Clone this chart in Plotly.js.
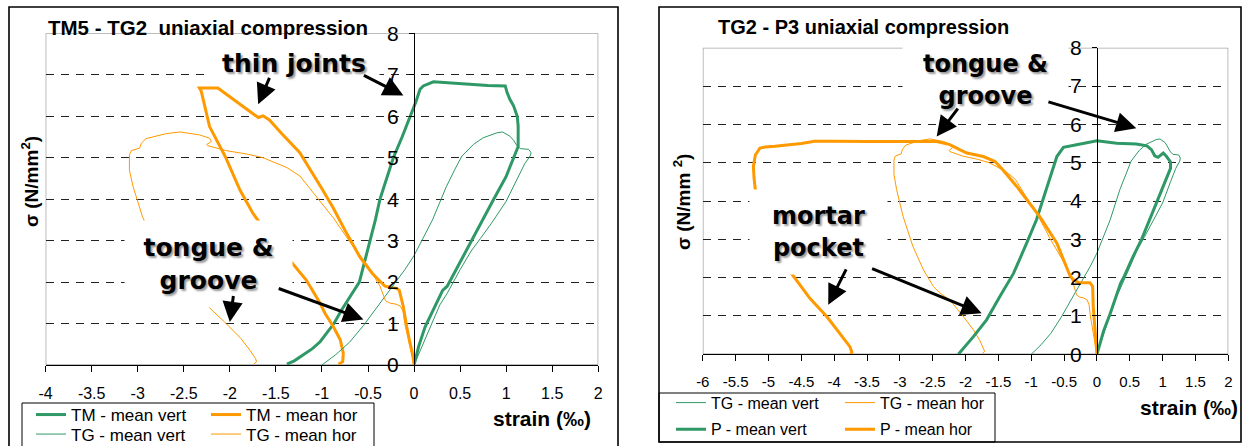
<!DOCTYPE html>
<html>
<head>
<meta charset="utf-8">
<script src="https://cdn.plot.ly/plotly-3.0.1.min.js"></script>
<style>
  html, body { margin: 0; padding: 0; background: #fff; }
  #chart { width: 1243px; height: 446px; }
</style>
</head>
<body>
<div id="chart"></div>
<script>
// ---------------- DATA ----------------
// Left panel: TM5 - TG2
const tmVertX = [0, 0.05, 0.12, 0.2, 0.31, 0.36, 0.48, 0.61, 0.73, 0.86, 1.0, 1.12, 1.13, 1.13, 1.12, 1.08, 1.04, 1.01, 0.99, 0.80, 0.61, 0.40, 0.21, 0.10, 0.065, 0.02, -0.04, -0.13, -0.225, -0.30, -0.37, -0.42, -0.478, -0.53, -0.594, -0.68, -0.78, -0.87, -0.95, -1.02, -1.10, -1.20, -1.30, -1.38];
const tmVertY = [0, 0.45, 0.92, 1.3, 1.8, 1.9, 2.4, 2.97, 3.45, 3.98, 4.55, 5.2, 5.27, 5.77, 6.0, 6.25, 6.41, 6.57, 6.73, 6.74, 6.77, 6.8, 6.83, 6.73, 6.65, 6.35, 6.0, 5.5, 5.0, 4.5, 4.0, 3.5, 3.0, 2.5, 2.0, 1.7, 1.35, 1.0, 0.78, 0.56, 0.4, 0.24, 0.1, 0.02];

const tmHorX = [0, -0.014, -0.043, -0.08, -0.116, -0.16, -0.19, -0.315, -0.45, -0.587, -0.75, -0.88, -1.0, -1.09, -1.24, -1.44, -1.57, -1.64, -1.69, -1.73, -1.93, -2.13, -2.33, -2.31, -2.22, -2.05, -1.89, -1.75, -1.6, -1.45, -1.33, -1.17, -1.02, -0.967, -0.877, -0.80, -0.768, -0.775, -0.82];
const tmHorY = [0, 0.24, 0.52, 0.92, 1.40, 1.8, 1.85, 1.9, 2.2, 2.6, 3.25, 3.8, 4.25, 4.57, 5.12, 5.59, 5.91, 6.01, 5.97, 6.03, 6.36, 6.68, 6.68, 6.6, 5.75, 5.03, 4.22, 3.66, 3.2, 2.8, 2.49, 2.05, 1.49, 1.25, 0.93, 0.6, 0.28, 0.08, 0.02];

// TG2 series (same specimen, shown in both panels)
const tgVertX = [0, 0.1, 0.21, 0.28, 0.36, 0.5, 0.62, 0.72, 0.85, 1.0, 1.12, 1.2, 1.26, 1.27, 1.245, 1.155, 1.12, 1.08, 1.04, 0.96, 0.90, 0.75, 0.645, 0.52, 0.45, 0.35, 0.2, 0, -0.1, -0.25, -0.41, -0.55, -0.7, -0.85, -1.0];
const tgVertY = [0, 0.5, 1.09, 1.45, 1.73, 2.3, 2.75, 3.05, 3.45, 3.95, 4.5, 4.85, 5.04, 5.12, 5.2, 5.22, 5.28, 5.42, 5.52, 5.62, 5.6, 5.48, 5.32, 5.04, 4.75, 4.3, 3.5, 2.64, 2.3, 1.85, 1.35, 0.95, 0.55, 0.25, 0];

const tgHorX = [0, -0.03, -0.07, -0.10, -0.12, -0.15, -0.20, -0.26, -0.31, -0.37, -0.51, -0.70, -0.877, -1.06, -1.24, -1.38, -1.53, -1.64, -1.82, -2.04, -2.24, -2.25, -2.20, -2.22, -2.33, -2.54, -2.69, -2.91, -2.96, -2.98, -3.07, -3.09, -3.09, -3.05, -2.95, -2.80, -2.64, -2.49, -2.39, -2.24, -2.04, -1.88, -1.78, -1.72, -1.71, -1.74];
const tgHorY = [0, 0.3, 0.65, 1.0, 1.3, 1.42, 1.47, 1.49, 1.55, 1.9, 2.42, 2.98, 3.55, 4.07, 4.56, 4.76, 4.9, 5.0, 5.09, 5.17, 5.29, 5.32, 5.39, 5.47, 5.55, 5.62, 5.58, 5.46, 5.35, 5.23, 5.17, 5.07, 4.7, 4.3, 3.59, 2.81, 2.2, 1.77, 1.6, 1.42, 1.0, 0.64, 0.35, 0.15, 0.08, 0.02];

// Right panel: TG2 - P3
const pVertX = [0, 0.1, 0.2, 0.3, 0.36, 0.42, 0.55, 0.68, 0.82, 0.97, 1.06, 1.12, 1.12, 1.09, 1.06, 1.01, 0.93, 0.88, 0.83, 0.76, 0.60, 0.30, 0, -0.31, -0.51, -0.61, -0.69, -0.79, -0.92, -1.07, -1.27, -1.48, -1.68, -1.88, -2.0, -2.11];
const pVertY = [0, 0.6, 1.05, 1.55, 1.85, 2.05, 2.55, 3.0, 3.6, 4.2, 4.6, 4.85, 5.02, 5.1, 5.16, 5.25, 5.14, 5.18, 5.34, 5.44, 5.49, 5.51, 5.57, 5.47, 5.4, 5.16, 4.73, 4.2, 3.51, 2.9, 2.11, 1.5, 0.9, 0.46, 0.22, 0];

const pHorX = [0, -0.03, -0.056, -0.065, -0.107, -0.28, -0.36, -0.41, -0.61, -0.87, -1.02, -1.22, -1.43, -1.55, -1.73, -1.88, -1.98, -2.09, -2.24, -2.44, -2.7, -3.0, -3.5, -4.0, -4.3, -4.5, -4.7, -4.9, -5.05, -5.13, -5.2, -5.23, -5.22, -5.2, -4.65, -4.37, -4.11, -3.91, -3.76, -3.73, -3.75];
const pHorY = [0, 0.72, 1.24, 1.77, 1.87, 1.87, 1.95, 2.05, 2.9, 3.59, 3.94, 4.38, 4.81, 5.03, 5.16, 5.22, 5.25, 5.34, 5.47, 5.55, 5.55, 5.54, 5.55, 5.56, 5.56, 5.5, 5.46, 5.43, 5.41, 5.38, 5.2, 4.9, 4.6, 4.29, 2.11, 1.46, 0.98, 0.55, 0.2, 0.05, 0];

// Tick labels
const xTickVals1 = [-4, -3.5, -3, -2.5, -2, -1.5, -1, -0.5, 0, 0.5, 1, 1.5, 2];
const xTickText1 = ['-4', '-3.5', '-3', '-2.5', '-2', '-1.5', '-1', '-0.5', '0', '0.5', '1', '1.5', '2'];
const xTickVals2 = [-6, -5.5, -5, -4.5, -4, -3.5, -3, -2.5, -2, -1.5, -1, -0.5, 0, 0.5, 1, 1.5, 2];
const xTickText2 = ['-6', '-5.5', '-5', '-4.5', '-4', '-3.5', '-3', '-2.5', '-2', '-1.5', '-1', '-0.5', '0', '0.5', '1', '1.5', '2'];
const yTickVals = [0, 1, 2, 3, 4, 5, 6, 7, 8];

// Series names
const namesLeft = ['TM - mean vert', 'TM - mean hor', 'TG - mean vert', 'TG - mean hor'];
const namesRight = ['TG - mean vert', 'TG - mean hor', 'P - mean vert', 'P - mean hor'];

// ---------------- STYLE / LAYOUT ----------------
const W = 1243, H = 446;
const GREEN = '#2e9966', ORANGE = '#ff9900';
const px = v => v / W;
const py = v => 1 - v / H;
const SANS = 'Liberation Sans, Arial, sans-serif';
const BIG = 'DejaVu Sans, Verdana, sans-serif';

function tr(x, y, name, color, width, xa, ya, leg) {
  return { x: x, y: y, name: name, type: 'scatter', mode: 'lines',
    line: { color: color, width: width }, xaxis: xa, yaxis: ya, legend: leg,
    hoverinfo: 'skip' };
}

const traces = [
  tr(tmVertX, tmVertY, namesLeft[0], GREEN, 3, 'x', 'y', 'legend'),
  tr(tmHorX, tmHorY, namesLeft[1], ORANGE, 3, 'x', 'y', 'legend'),
  tr(tgVertX, tgVertY, namesLeft[2], GREEN, 1, 'x', 'y', 'legend2'),
  tr(tgHorX, tgHorY, namesLeft[3], ORANGE, 1, 'x', 'y', 'legend2'),
  tr(tgVertX, tgVertY, namesRight[0], GREEN, 1, 'x2', 'y2', 'legend3'),
  tr(tgHorX, tgHorY, namesRight[1], ORANGE, 1, 'x2', 'y2', 'legend3'),
  tr(pVertX, pVertY, namesRight[2], GREEN, 3, 'x2', 'y2', 'legend4'),
  tr(pHorX, pHorY, namesRight[3], ORANGE, 3, 'x2', 'y2', 'legend4')
];

function xAxis(domain, range, vals, text, anchor, fs) {
  return { domain: domain, range: range, tickvals: vals, ticktext: text, anchor: anchor,
    showline: true, linecolor: '#000', linewidth: 1, ticks: 'outside', ticklen: 6,
    tickcolor: '#000', tickwidth: 1, ticklabelstandoff: 8,
    tickfont: { family: SANS, size: fs, color: '#000' },
    showgrid: false, zeroline: false, fixedrange: true, automargin: false };
}
function yAxis(domain, pos) {
  return { domain: domain, range: [0, 8], tickvals: yTickVals, anchor: 'free', position: pos,
    showline: true, linecolor: '#000', linewidth: 1, ticks: 'outside', ticklen: 5,
    tickcolor: '#000', tickwidth: 1, ticklabelstandoff: 6,
    tickfont: { family: SANS, size: 21, color: '#000' },
    showgrid: true, gridcolor: '#222', gridwidth: 1, griddash: '8px,7px',
    zeroline: false, fixedrange: true, automargin: false };
}

function legendCfg(xp, yp, size, ew) {
  return { x: px(xp), y: py(yp), xanchor: 'left', yanchor: 'middle', orientation: 'h',
    entrywidth: ew, entrywidthmode: 'pixels', bgcolor: 'rgba(0,0,0,0)', borderwidth: 0,
    font: { family: SANS, size: size, color: '#000' }, itemwidth: 30, tracegroupgap: 0 };
}

const bigFont = (s) => ({ family: BIG, size: s, color: '#000', weight: 'bold',
  shadow: '2px 2px 2px rgba(0,0,0,0.4)' });

function box(text, x, y, xr, yr, w, h, s) {
  return { text: text, x: x, y: y, xref: xr, yref: yr, showarrow: false,
    xanchor: 'center', yanchor: 'middle', width: w, height: h, bgcolor: '#fff',
    borderpad: 0, font: bigFont(s), align: 'center', valign: 'middle' };
}
function arrow(hx, hy, tx, ty, xr, yr) {
  return { text: ' ', font: { size: 1, color: 'rgba(0,0,0,0)' }, borderpad: 0,
    x: hx, y: hy, ax: tx, ay: ty, xref: xr, yref: yr, axref: xr, ayref: yr,
    showarrow: true, arrowhead: 2, arrowsize: 1.35, arrowwidth: 3, arrowcolor: '#000',
    standoff: 0, startstandoff: 0 };
}
function label(text, xp, yp, size, anchor, angle) {
  return { text: text, x: px(xp), y: py(yp), xref: 'paper', yref: 'paper', showarrow: false,
    xanchor: anchor || 'center', yanchor: 'middle', textangle: angle || 0,
    font: { family: SANS, size: size, color: '#000', weight: 'bold' } };
}

const annotations = [
  label('TM5 - TG2  uniaxial compression', 45.6, 27.5, 20.5, 'left'),
  label('TG2 - P3 uniaxial compression', 863, 26.7, 20),
  label('σ (N/mm<sup>2</sup>)', 30, 182, 19, 'center', -90),
  label('σ (N/mm <sup>2</sup>)', 682, 202, 19, 'center', -90),
  label('strain (‰)', 542, 418, 21),
  label('strain (‰)', 1189, 407, 21),
  box('thin joints', -1.30, 7.28, 'x', 'y', 170, 42, 25),
  box('tongue &amp;<br>groove', -2.234, 2.434, 'x', 'y', 167, 86, 25),
  box('tongue &amp;<br>groove', -1.70, 7.16, 'x2', 'y2', 165, 78, 24),
  box('mortar<br>pocket', -4.239, 3.193, 'x2', 'y2', 137, 84, 24),
  arrow(-1.692, 6.29, -1.565, 6.95, 'x', 'y'),
  arrow(-0.116, 6.5, -0.55, 6.99, 'x', 'y'),
  arrow(-2.0, 1.04, -1.96, 1.69, 'x', 'y'),
  arrow(-0.55, 1.1, -1.475, 1.85, 'x', 'y'),
  arrow(-2.44, 5.68, -2.11, 6.43, 'x2', 'y2'),
  arrow(0.60, 5.9, -0.746, 6.59, 'x2', 'y2'),
  arrow(-4.09, 1.29, -3.81, 2.24, 'x2', 'y2'),
  arrow(-1.755, 1.07, -3.43, 2.24, 'x2', 'y2')
];

const shapes = [
  { type: 'rect', xref: 'x', yref: 'y', x0: -4, x1: 2, y0: 0, y1: 8, layer: 'below',
    line: { color: '#a6a6a6', width: 1.5 } },
  { type: 'rect', xref: 'x2', yref: 'y2', x0: -6, x1: 2, y0: 0, y1: 8, layer: 'below',
    line: { color: '#a6a6a6', width: 1.5 } },
  { type: 'rect', xref: 'paper', yref: 'paper', x0: px(9), x1: px(618), y0: py(7), y1: py(470),
    line: { color: '#000', width: 1.6 } },
  { type: 'rect', xref: 'paper', yref: 'paper', x0: px(659), x1: px(1241), y0: py(7), y1: py(442),
    line: { color: '#000', width: 1.6 } },
  { type: 'rect', xref: 'paper', yref: 'paper', x0: px(22), x1: px(374), y0: py(403), y1: py(470),
    line: { color: '#000', width: 1 } },
  { type: 'rect', xref: 'paper', yref: 'paper', x0: px(659), x1: px(995), y0: py(393), y1: py(442),
    line: { color: '#000', width: 1 } }
];

const layout = {
  width: W, height: H,
  margin: { l: 0, r: 0, t: 0, b: 0, pad: 0, autoexpand: false },
  paper_bgcolor: '#fff', plot_bgcolor: '#fff',
  showlegend: true, hovermode: false,
  xaxis: xAxis([px(45.6), px(598.3)], [-4, 2], xTickVals1, xTickText1, 'y', 16),
  yaxis: yAxis([py(365), py(33.3)], px(413.8)),
  xaxis2: xAxis([px(702.8), px(1228.3)], [-6, 2], xTickVals2, xTickText2, 'y2', 15),
  yaxis2: yAxis([py(354.3), py(47.7)], px(1097)),
  legend: legendCfg(31, 415, 17, 130),
  legend2: legendCfg(31, 434.5, 17, 130),
  legend3: legendCfg(671, 402.7, 16, 124),
  legend4: legendCfg(671, 429.3, 16, 124),
  annotations: annotations,
  shapes: shapes
};

Plotly.newPlot('chart', traces, layout, { staticPlot: true, displayModeBar: false });
</script>
</body>
</html>
